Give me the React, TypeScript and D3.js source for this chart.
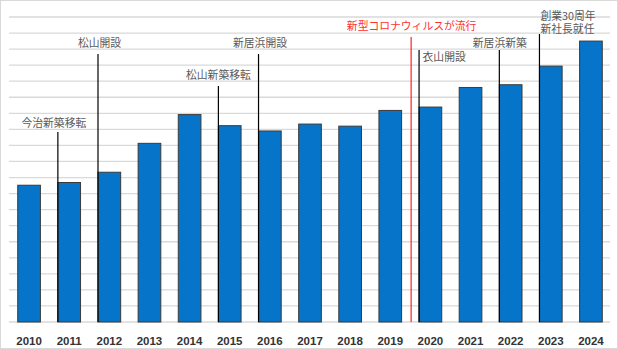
import React from "react";
import * as d3 from "d3";

const years = ["2010","2011","2012","2013","2014","2015","2016","2017","2018","2019","2020","2021","2022","2023","2024"];
const values = [8.52, 8.69, 9.33, 11.13, 12.92, 12.23, 11.9, 12.33, 12.2, 13.18, 13.39, 14.61, 14.78, 15.94, 17.5];
const gridMax = 19;

const annotationLabels = [
  ["今治新築移転"],
  ["松山開設"],
  ["松山新築移転"],
  ["新居浜開設"],
  ["新型コロナウィルスが流行"],
  ["衣山開設"],
  ["新居浜新築"],
  ["創業30周年", "新社長就任"],
];
const annotationYears = ["2011", "2012", "2015", "2016", "2020", "2020", "2022", "2023"];
const annotationRed = [false, false, false, false, true, false, false, false];

// layout: line top (px), text y center (px), text dx from line, anchor, boundary flag
const annLayout = [
  { top: 132, ty: 122, dx: -4, anchor: "middle", boundary: false },
  { top: 54, ty: 42, dx: 1.5, anchor: "middle", boundary: false },
  { top: 86, ty: 74, dx: 0, anchor: "middle", boundary: false },
  { top: 54, ty: 42, dx: 1.5, anchor: "middle", boundary: false },
  { top: 37, ty: 25, dx: 0.5, anchor: "middle", boundary: true },
  { top: 50, ty: 56, dx: 3.5, anchor: "start", boundary: false },
  { top: 50, ty: 42, dx: 0.5, anchor: "middle", boundary: false },
  { top: 34, ty: 15, dx: 1, anchor: "start", boundary: false },
];

export default function App() {
  const W = 618, H = 349;
  const x = d3.scaleBand<string>().domain(years).range([9, 611]).paddingInner(0.435).paddingOuter(0.2175);
  const y = d3.scaleLinear().domain([0, gridMax]).range([322, 17]);
  const ticks = d3.range(0, gridMax + 1);
  const gap = x.step() - x.bandwidth();
  const jp = '"Noto Sans CJK JP", "Noto Sans", sans-serif';

  return (
    <svg width={W} height={H} style={{ position: "fixed", left: 0, top: 0 }}>
      <rect x={0} y={0} width={W} height={H} fill="#fff" />
      <rect x={0.5} y={0.5} width={W - 1} height={H - 1} fill="none" stroke="#d9d9d9" />
      {ticks.map((t) => (
        <line key={t} x1={9} x2={610} y1={y(t)} y2={y(t)} stroke="#d9d9d9" strokeWidth={1.3} />
      ))}
      {years.map((yr, i) => (
        <rect
          key={yr}
          x={x(yr)!}
          y={y(values[i])}
          width={x.bandwidth()}
          height={y(0) - y(values[i])}
          fill="#0674C8"
          stroke="#3a3a3a"
          strokeWidth={1}
        />
      ))}
      {annotationLabels.map((lines, i) => {
        const L = annLayout[i];
        const lx = L.boundary ? x(annotationYears[i])! - gap / 2 + 0.8 : x(annotationYears[i])!;
        const color = annotationRed[i] ? "#FF2020" : "#000";
        const tcolor = annotationRed[i] ? "#FF3030" : "#595959";
        const lh = 13.4;
        return (
          <g key={i}>
            <line x1={lx} x2={lx} y1={L.top} y2={y(0)} stroke={color} strokeWidth={1.2} />
            <text
              textAnchor={L.anchor as any}
              dominantBaseline="central"
              fontFamily={jp}
              fontSize={10.8}
              fill={tcolor}
            >
              {lines.map((s, j) => (
                <tspan key={j} x={lx + L.dx} y={L.ty + j * lh}>
                  {s}
                </tspan>
              ))}
            </text>
          </g>
        );
      })}
      {years.map((yr) => (
        <text
          key={yr}
          x={x(yr)! + x.bandwidth() / 2}
          y={341}
          textAnchor="middle"
          dominantBaseline="central"
          fontFamily='"Liberation Sans", Arial, sans-serif'
          fontWeight="bold"
          fontSize={11.5}
          fill="#333"
        >
          {yr}
        </text>
      ))}
    </svg>
  );
}
